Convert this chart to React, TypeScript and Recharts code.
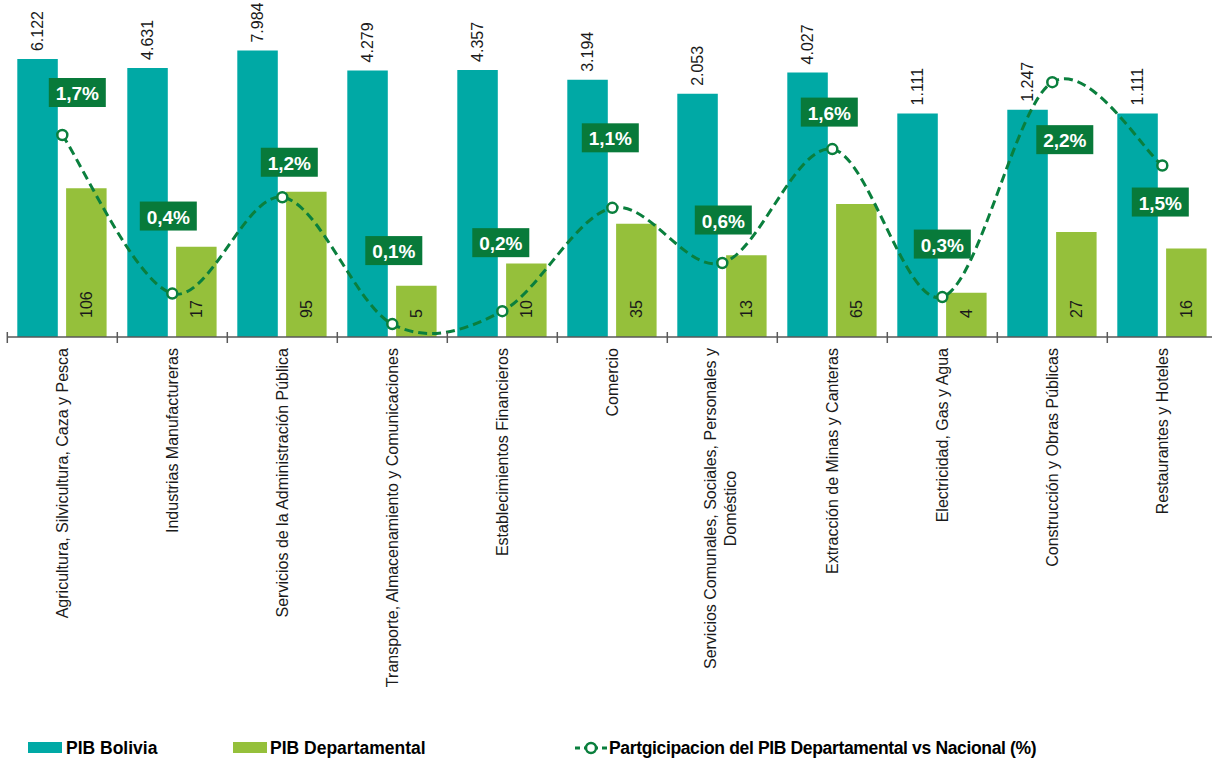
import React from 'react';
import { ComposedChart, Bar, Line, XAxis, YAxis, Legend, LabelList } from 'recharts';

// ---------- data ----------
const categories = [
  'Agricultura, Silvicultura, Caza y Pesca',
  'Industrias Manufactureras',
  'Servicios de la Administración Pública',
  'Transporte, Almacenamiento y Comunicaciones',
  'Establecimientos Financieros',
  'Comercio',
  'Servicios Comunales, Sociales, Personales y\nDoméstico',
  'Extracción de Minas y Canteras',
  'Electricidad, Gas y Agua',
  'Construcción y Obras Públicas',
  'Restaurantes y Hoteles',
];
const pibBolivia = [6122, 4631, 7984, 4279, 4357, 3194, 2053, 4027, 1111, 1247, 1111];
const pibDepartamental = [106, 17, 95, 5, 10, 35, 13, 65, 4, 27, 16];
const participacion = [1.72, 0.37, 1.19, 0.11, 0.22, 1.1, 0.63, 1.6, 0.34, 2.17, 1.46];
const seriesNames = [
  'PIB Bolivia',
  'PIB Departamental',
  'Partgicipacion del PIB Departamental vs Nacional (%)',
];

const data = categories.map((name, i) => ({
  name,
  bolivia: pibBolivia[i],
  departamental: pibDepartamental[i],
  pct: participacion[i],
}));

// ---------- styles ----------
const TEAL = '#00A9A5';
const GREEN = '#95C03B';
const DARK = '#0A7F3D';
const BOX = '#087A3A';
const AXIS = '#595959';
const FONT = "'Liberation Sans', Arial, Helvetica, sans-serif";

// manual placement of the percentage label boxes relative to their point (dx, dy)
const PCT_LABEL_OFFSETS = [
  [15, -42.5], [-4, -77.5], [7, -35], [1.5, -73.5], [-1.5, -68.5], [-2, -70],
  [1, -43], [-3, -37], [0, -53], [12.5, 57.5], [-2, 36.5],
];

const fmtThousands = (v: number) => String(v).replace(/\B(?=(\d{3})+(?!\d))/g, '.');
const fmtPct = (v: number) => v.toFixed(1).replace('.', ',') + '%';

// Catmull-Rom style smoothing (like spreadsheet "smoothed line")
function smoothCurve(context: any) {
  let pts: number[][] = [];
  return {
    areaStart() {},
    areaEnd() {},
    lineStart() { pts = []; },
    point(x: any, y: any) { pts.push([+x, +y]); },
    lineEnd() {
      if (!pts.length) return;
      context.moveTo(pts[0][0], pts[0][1]);
      for (let i = 0; i < pts.length - 1; i++) {
        const p0 = pts[i - 1] || pts[i];
        const p1 = pts[i];
        const p2 = pts[i + 1];
        const p3 = pts[i + 2] || p2;
        context.bezierCurveTo(
          p1[0] + (p2[0] - p0[0]) / 6, p1[1] + (p2[1] - p0[1]) / 6,
          p2[0] - (p3[0] - p1[0]) / 6, p2[1] - (p3[1] - p1[1]) / 6,
          p2[0], p2[1],
        );
      }
    },
  };
}

let measureCtx: any = null;
function textWidth(s: string, font: string) {
  if (!measureCtx) measureCtx = document.createElement('canvas').getContext('2d');
  measureCtx.font = font;
  return measureCtx.measureText(s).width;
}

const boxOf = (p: any) => ({
  x: p.x ?? p.viewBox?.x ?? 0,
  y: p.y ?? p.viewBox?.y ?? 0,
  width: p.width ?? p.viewBox?.width ?? 0,
  height: p.height ?? p.viewBox?.height ?? 0,
});

const CategoryTick = (props: any) => {
  const { x, y, payload, index } = props;
  const half = payload?.offset || 55;
  const lines = String(payload.value).split('\n');
  const n = lines.length;
  const top = y + 11;
  const lineH = 20;
  const w0 = textWidth(lines[0], `16px ${FONT}`);
  return (
    <g>
      <line x1={x - half} x2={x - half} y1={y - 5} y2={y + 6} stroke={AXIS} strokeWidth={1.5} />
      {index === categories.length - 1 && (
        <line x1={x + half} x2={x + half} y1={y - 5} y2={y + 6} stroke={AXIS} strokeWidth={1.5} />
      )}
      {lines.map((ln, i) => {
        const lx = n === 1 ? x : x - 2 + (i - (n - 1) / 2) * lineH;
        const ly = n === 1 ? top : top + w0 / 2;
        return (
          <text
            key={i}
            x={lx}
            y={ly}
            transform={`rotate(-90 ${lx} ${ly})`}
            textAnchor={n === 1 ? 'end' : 'middle'}
            dominantBaseline="central"
            fontSize={16}
            fontFamily={FONT}
            fill="#1a1a1a"
          >
            {ln}
          </text>
        );
      })}
    </g>
  );
};

const TopLabel = (p: any) => {
  const b = boxOf(p);
  const cx = b.x + b.width / 2;
  const ty = b.y - 8;
  return (
    <text x={cx} y={ty} transform={`rotate(-90 ${cx} ${ty})`} textAnchor="start"
      dominantBaseline="central" fontSize={16} fontFamily={FONT} fill="#1a1a1a">
      {fmtThousands(Number(p.value))}
    </text>
  );
};

const InsideLabel = (p: any) => {
  const b = boxOf(p);
  const cx = b.x + b.width / 2;
  const ty = b.y + b.height - 19;
  return (
    <text x={cx} y={ty} transform={`rotate(-90 ${cx} ${ty})`} textAnchor="start"
      dominantBaseline="central" fontSize={16} fontFamily={FONT} fill="#1a1a1a">
      {String(p.value)}
    </text>
  );
};

const PctDot = (p: any) => {
  const { cx, cy, index } = p;
  const v = p.payload?.pct ?? p.value;
  const off = PCT_LABEL_OFFSETS[index] || [0, -40];
  const bx = cx + off[0];
  const by = cy + off[1];
  return (
    <g key={`pct-${index}`}>
      <circle cx={cx} cy={cy} r={5} fill="#fff" stroke={DARK} strokeWidth={2.5} />
      <rect x={bx - 28.5} y={by - 14.5} width={57} height={29} fill={BOX} />
      <text x={bx} y={by + 1} textAnchor="middle" dominantBaseline="central" fill="#fff"
        fontWeight="bold" fontSize={19} fontFamily={FONT}>
        {fmtPct(Number(v))}
      </text>
    </g>
  );
};

const renderLegend = () => (
  <div style={{ position: 'relative', width: 1212, height: 26, fontFamily: FONT, fontWeight: 'bold', fontSize: 17.5, color: '#000' }}>
    <div style={{ position: 'absolute', left: 28, top: 7, width: 34, height: 11, background: TEAL }} />
    <span style={{ position: 'absolute', left: 66, top: 0, lineHeight: '26px', whiteSpace: 'nowrap' }}>{seriesNames[0]}</span>
    <div style={{ position: 'absolute', left: 233, top: 7, width: 34, height: 11, background: GREEN }} />
    <span style={{ position: 'absolute', left: 270, top: 0, lineHeight: '26px', whiteSpace: 'nowrap' }}>{seriesNames[1]}</span>
    <svg style={{ position: 'absolute', left: 573, top: 0 }} width={36} height={26}>
      <line x1={2} x2={35} y1={13} y2={13} stroke={DARK} strokeWidth={3} strokeDasharray="5 4" />
      <circle cx={18} cy={13} r={5} fill="#fff" stroke={DARK} strokeWidth={2.5} />
    </svg>
    <span style={{ position: 'absolute', left: 609, top: 0, lineHeight: '26px', whiteSpace: 'nowrap', letterSpacing: -0.35 }}>{seriesNames[2]}</span>
  </div>
);

export default function App() {
  return (
    <div style={{ position: 'absolute', left: 0, top: 0, width: 1212, height: 761, overflow: 'hidden', background: '#fff' }}>
      <ComposedChart
        width={1225}
        height={761}
        data={data}
        margin={{ top: 43.4, right: 7.7, left: 7.3, bottom: 0 }}
        barSize={40.5}
        barGap={8.3}
      >
        <XAxis
          dataKey="name"
          height={424}
          interval={0}
          tickLine={false}
          tickSize={0}
          tickMargin={0}
          axisLine={{ stroke: AXIS, strokeWidth: 1.5 }}
          tick={<CategoryTick />}
        />
        <YAxis yAxisId="left" scale="log" domain={[1, 10000]} allowDataOverflow hide />
        <YAxis yAxisId="right" orientation="right" domain={[0, 2.5]} allowDataOverflow hide />
        <Bar yAxisId="left" dataKey="bolivia" name={seriesNames[0]} fill={TEAL} isAnimationActive={false}>
          <LabelList dataKey="bolivia" content={<TopLabel />} />
        </Bar>
        <Bar yAxisId="left" dataKey="departamental" name={seriesNames[1]} fill={GREEN} isAnimationActive={false}>
          <LabelList dataKey="departamental" content={<InsideLabel />} />
        </Bar>
        <Line
          yAxisId="right"
          dataKey="pct"
          name={seriesNames[2]}
          type={smoothCurve as any}
          stroke={DARK}
          strokeWidth={3}
          strokeDasharray="9 5"
          dot={(p: any) => <PctDot {...p} key={`d-${p.index}`} />}
          activeDot={false}
          isAnimationActive={false}
        />
        <Legend
          layout="horizontal"
          align="center"
          verticalAlign="middle"
          content={renderLegend}
          wrapperStyle={{ top: 735, left: 0, width: 1212, height: 26 }}
        />
      </ComposedChart>
    </div>
  );
}
